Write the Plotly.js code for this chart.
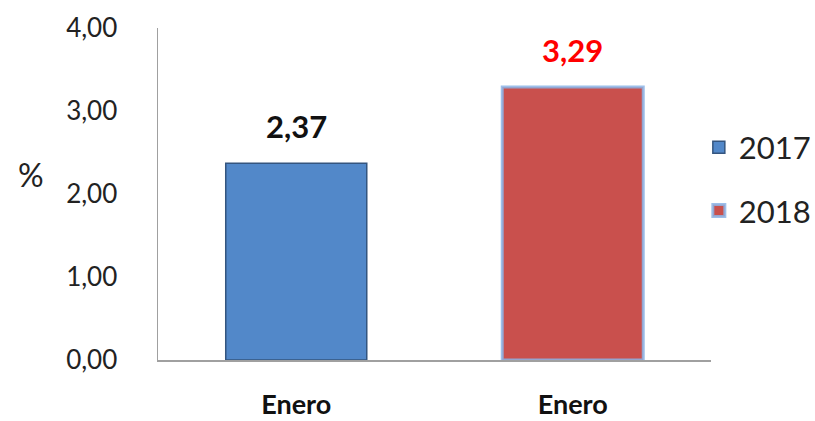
<!DOCTYPE html>
<html>
<head>
<meta charset="utf-8">
<script src="https://cdn.plot.ly/plotly-3.0.1.min.js"></script>
<style>html,body{margin:0;padding:0;background:#fff}</style>
</head>
<body>
<div id="chart" style="width:815px;height:421px"></div>
<script>
var categories = ["Enero", "Enero"];
var seriesNames = ["2017", "2018"];
var seriesValues = [2.37, 3.29];
var seriesColors = ["#5288c9", "#c9504d"];
var labelColors = ["#111111", "#ff0000"];
var yTicks = [0, 1, 2, 3, 4];

var positions = categories.map(function (c, i) { return i; });

var traces = seriesNames.map(function (name, i) {
  return {
    type: "bar",
    name: name,
    legendgroup: name,
    x: [positions[i]],
    y: [seriesValues[i]],
    width: 0.51,
    marker: {
      color: seriesColors[i],
      line: i === 1 ? {color: "rgba(140,180,230,0.85)", width: 3} : {color: "#34557f", width: 1.5}
    },
    hoverinfo: "skip"
  };
});

var annotations = seriesValues.map(function (v, i) {
  return {
    x: positions[i], y: v, xref: "x", yref: "y",
    text: v.toFixed(2).replace(".", ","),
    showarrow: false, yanchor: "bottom", yshift: 16,
    font: {family: "Lato, 'Open Sans', sans-serif", size: 31, color: labelColors[i], weight: "bold"}
  };
});
annotations.push({
  x: 0.0, y: 0.56, xref: "paper", yref: "paper", xanchor: "right",
  xshift: -112, text: "%", showarrow: false,
  font: {family: "Lato, sans-serif", size: 32, color: "#222"}
});

var layout = {
  width: 815, height: 421,
  margin: {l: 158, r: 104, t: 28, b: 61, pad: 0, autoexpand: false},
  paper_bgcolor: "#fff", plot_bgcolor: "#fff",
  separators: ",.",
  barmode: "overlay",
  showlegend: true,
  legend: {
    x: 0.978, xanchor: "left", y: 0.545, yanchor: "middle",
    font: {family: "Lato, sans-serif", size: 31, color: "#222"},
    tracegroupgap: 20, traceorder: "grouped", itemwidth: 30
  },
  xaxis: {
    range: [-0.5, 1.5],
    tickvals: positions, ticktext: categories,
    showline: true, linecolor: "#a0a0a0", linewidth: 1.5,
    showgrid: false, zeroline: false, ticks: "",
    ticklabelstandoff: 20,
    tickfont: {family: "Lato, sans-serif", size: 27, color: "#111", weight: "bold"},
    fixedrange: true
  },
  yaxis: {
    range: [0, 4],
    tickvals: yTicks, tickformat: ".2f",
    showline: true, linecolor: "#a0a0a0", linewidth: 1.5,
    showgrid: false, zeroline: false, ticks: "",
    ticklabelstandoff: 34,
    tickfont: {family: "Lato, sans-serif", size: 26, color: "#222"},
    fixedrange: true
  },
  annotations: annotations
};

Plotly.newPlot("chart", traces, layout, {displayModeBar: false, staticPlot: true});
</script>
</body>
</html>
